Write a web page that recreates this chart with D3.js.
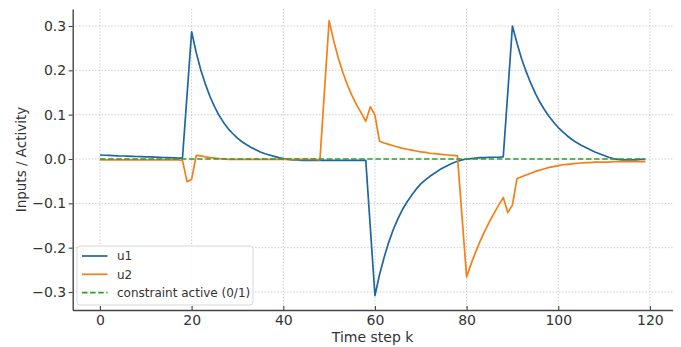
<!DOCTYPE html>
<html>
<head>
<meta charset="utf-8">
<script src="https://cdn.jsdelivr.net/npm/d3@7"></script>
<style>
  body { margin: 0; background: #fff; }
  svg { display: block; font-family: "DejaVu Sans", sans-serif; }
</style>
</head>
<body>
<div id="wrapper"></div>
<script>
// values, one per time step k = 0..119
const u1 = [
  0.009, 0.0085, 0.008, 0.0075, 0.007, 0.0068, 0.0064, 0.006, 0.0057, 0.0053,
  0.005, 0.0046, 0.0042, 0.0038, 0.0034, 0.003, 0.0026, 0.0022, 0.0018, 0.144,
  0.287, 0.240, 0.201, 0.169, 0.141, 0.118, 0.098, 0.082, 0.068, 0.057,
  0.047, 0.039, 0.032, 0.026, 0.021, 0.016, 0.012, 0.009, 0.006, 0.003,
  0.001, -0.001, -0.002, -0.002, -0.003, -0.003, -0.003, -0.003, -0.003, -0.003,
  -0.003, -0.003, -0.003, -0.003, -0.003, -0.003, -0.003, -0.003, -0.003, -0.156,
  -0.308, -0.261, -0.222, -0.188, -0.159, -0.135, -0.114, -0.097, -0.082, -0.068,
  -0.056, -0.047, -0.039, -0.032, -0.025, -0.019, -0.014, -0.009, -0.005, -0.002,
  0.000, 0.001, 0.002, 0.003, 0.003, 0.004, 0.004, 0.004, 0.005, 0.152,
  0.300, 0.261, 0.226, 0.197, 0.171, 0.148, 0.128, 0.111, 0.096, 0.083,
  0.071, 0.061, 0.052, 0.044, 0.037, 0.031, 0.026, 0.021, 0.016, 0.012,
  0.008, 0.004, 0.001, -0.001, -0.002, -0.002, -0.002, -0.002, -0.001, -0.001
];

const u2 = [
  -0.002, -0.002, -0.002, -0.002, -0.002, -0.002, -0.002, -0.002, -0.002, -0.002,
  -0.002, -0.002, -0.002, -0.002, -0.002, -0.002, -0.002, -0.002, -0.003, -0.051,
  -0.046, 0.008, 0.007, 0.005, 0.003, 0.002, 0.001, 0.000, -0.001, -0.001,
  -0.001, -0.001, -0.001, -0.001, -0.001, -0.001, -0.001, -0.001, -0.001, -0.001,
  -0.001, -0.001, -0.001, -0.001, -0.001, -0.001, -0.001, -0.001, -0.002, 0.155,
  0.312, 0.267, 0.228, 0.195, 0.167, 0.143, 0.122, 0.104, 0.085, 0.118,
  0.099, 0.040, 0.036, 0.033, 0.030, 0.027, 0.024, 0.022, 0.020, 0.018,
  0.016, 0.015, 0.013, 0.012, 0.011, 0.010, 0.009, 0.008, 0.007, -0.130,
  -0.266, -0.236, -0.209, -0.184, -0.162, -0.141, -0.122, -0.104, -0.087, -0.121,
  -0.104, -0.044, -0.040, -0.036, -0.032, -0.028, -0.025, -0.022, -0.019, -0.017,
  -0.015, -0.013, -0.012, -0.011, -0.010, -0.009, -0.008, -0.008, -0.007, -0.007,
  -0.007, -0.007, -0.006, -0.006, -0.006, -0.006, -0.006, -0.006, -0.006, -0.006
];

const constraintActive = [
  0, 0, 0, 0, 0, 0, 0, 0, 0, 0, 0, 0, 0, 0, 0, 0, 0, 0, 0, 0,
  0, 0, 0, 0, 0, 0, 0, 0, 0, 0, 0, 0, 0, 0, 0, 0, 0, 0, 0, 0,
  0, 0, 0, 0, 0, 0, 0, 0, 0, 0, 0, 0, 0, 0, 0, 0, 0, 0, 0, 0,
  0, 0, 0, 0, 0, 0, 0, 0, 0, 0, 0, 0, 0, 0, 0, 0, 0, 0, 0, 0,
  0, 0, 0, 0, 0, 0, 0, 0, 0, 0, 0, 0, 0, 0, 0, 0, 0, 0, 0, 0,
  0, 0, 0, 0, 0, 0, 0, 0, 0, 0, 0, 0, 0, 0, 0, 0, 0, 0, 0, 0
];

const xTicks = [0, 20, 40, 60, 80, 100, 120];
const yTicks = [-0.3, -0.2, -0.1, 0.0, 0.1, 0.2, 0.3];

const seriesNames = ["u1", "u2", "constraint active (0/1)"];
const seriesColors = ["#1d66a6", "#f57f17", "#2ca02c"];

function drawChart() {
    const dimensions = {
        width: 681,
        height: 347,
        left: 72.7,
        right: 672.6,
        top: 9,
        bottom: 310,
    };

    const svg = d3.select("#wrapper")
        .append("svg")
            .attr("width", dimensions.width)
            .attr("height", dimensions.height);

    const xScale = d3.scaleLinear()
        .domain([-5.95, 124.95])
        .range([dimensions.left, dimensions.right]);

    const yScale = d3.scaleLinear()
        .domain([-0.3406, 0.3384])
        .range([dimensions.bottom, dimensions.top]);

    // dotted grid
    const grid = svg.append("g")
        .attr("stroke", "#c4c4c4")
        .attr("stroke-width", 0.9)
        .attr("stroke-dasharray", "1.4,1.8");

    grid.selectAll(".vgrid")
        .data(xTicks)
        .join("line")
            .attr("x1", d => xScale(d))
            .attr("x2", d => xScale(d))
            .attr("y1", dimensions.top)
            .attr("y2", dimensions.bottom);

    grid.selectAll(".hgrid")
        .data(yTicks)
        .join("line")
            .attr("x1", dimensions.left)
            .attr("x2", dimensions.right)
            .attr("y1", d => yScale(d))
            .attr("y2", d => yScale(d));

    const lineGenerator = d3.line()
        .x((d, i) => xScale(i))
        .y(d => yScale(d));

    svg.append("path")
        .attr("d", lineGenerator(u1))
        .attr("fill", "none")
        .attr("stroke", seriesColors[0])
        .attr("stroke-width", 1.7)
        .attr("stroke-linejoin", "round");

    svg.append("path")
        .attr("d", lineGenerator(u2))
        .attr("fill", "none")
        .attr("stroke", seriesColors[1])
        .attr("stroke-width", 1.7)
        .attr("stroke-linejoin", "round");

    svg.append("path")
        .attr("d", lineGenerator(constraintActive))
        .attr("fill", "none")
        .attr("stroke", seriesColors[2])
        .attr("stroke-width", 1.7)
        .attr("stroke-dasharray", "5.5,2.6");

    // axes
    const fmt = d => d3.format(".1f")(d).replace("-", "\u2212");

    const xAxis = svg.append("g")
        .attr("transform", `translate(0,${dimensions.bottom})`)
        .call(d3.axisBottom(xScale)
            .tickValues(xTicks)
            .tickSizeInner(-4)
            .tickSizeOuter(0)
            .tickPadding(5));

    const yAxis = svg.append("g")
        .attr("transform", `translate(${dimensions.left},0)`)
        .call(d3.axisLeft(yScale)
            .tickValues(yTicks)
            .tickFormat(fmt)
            .tickSizeInner(4)
            .tickSizeOuter(0)
            .tickPadding(2.5));

    [xAxis, yAxis].forEach(ax => {
        ax.select(".domain").attr("stroke", "#444").attr("stroke-width", 1.4);
        ax.selectAll(".tick line").attr("stroke", "#444").attr("stroke-width", 1.1);
        ax.selectAll(".tick text")
            .attr("fill", "#333")
            .style("font-size", "14px")
            .style("font-family", "DejaVu Sans");
    });

    svg.append("text")
        .attr("x", (dimensions.left + dimensions.right) / 2)
        .attr("y", 342)
        .attr("text-anchor", "middle")
        .attr("fill", "#333")
        .style("font-size", "14px")
        .text("Time step k");

    svg.append("text")
        .attr("transform", `translate(26,${(dimensions.top + dimensions.bottom) / 2}) rotate(-90)`)
        .attr("text-anchor", "middle")
        .attr("fill", "#333")
        .style("font-size", "13.5px")
        .text("Inputs / Activity");

    // legend
    const legend = svg.append("g")
        .attr("transform", "translate(77,246)");

    legend.append("rect")
        .attr("width", 176)
        .attr("height", 59)
        .attr("rx", 3)
        .attr("fill", "#fff")
        .attr("fill-opacity", 0.85)
        .attr("stroke", "#d6d6d6");

    const rows = legend.selectAll(".row")
        .data(seriesNames)
        .join("g")
            .attr("transform", (d, i) => `translate(0,${10 + i * 18.3})`);

    rows.append("line")
        .attr("x1", 5)
        .attr("x2", 30.5)
        .attr("stroke", (d, i) => seriesColors[i])
        .attr("stroke-width", 1.7)
        .attr("stroke-dasharray", (d, i) => i === 2 ? "5.5,2.6" : null);

    rows.append("text")
        .attr("x", 40)
        .attr("dy", "0.35em")
        .attr("fill", "#333")
        .style("font-size", "12px")
        .text(d => d);
}

drawChart();
</script>
</body>
</html>
